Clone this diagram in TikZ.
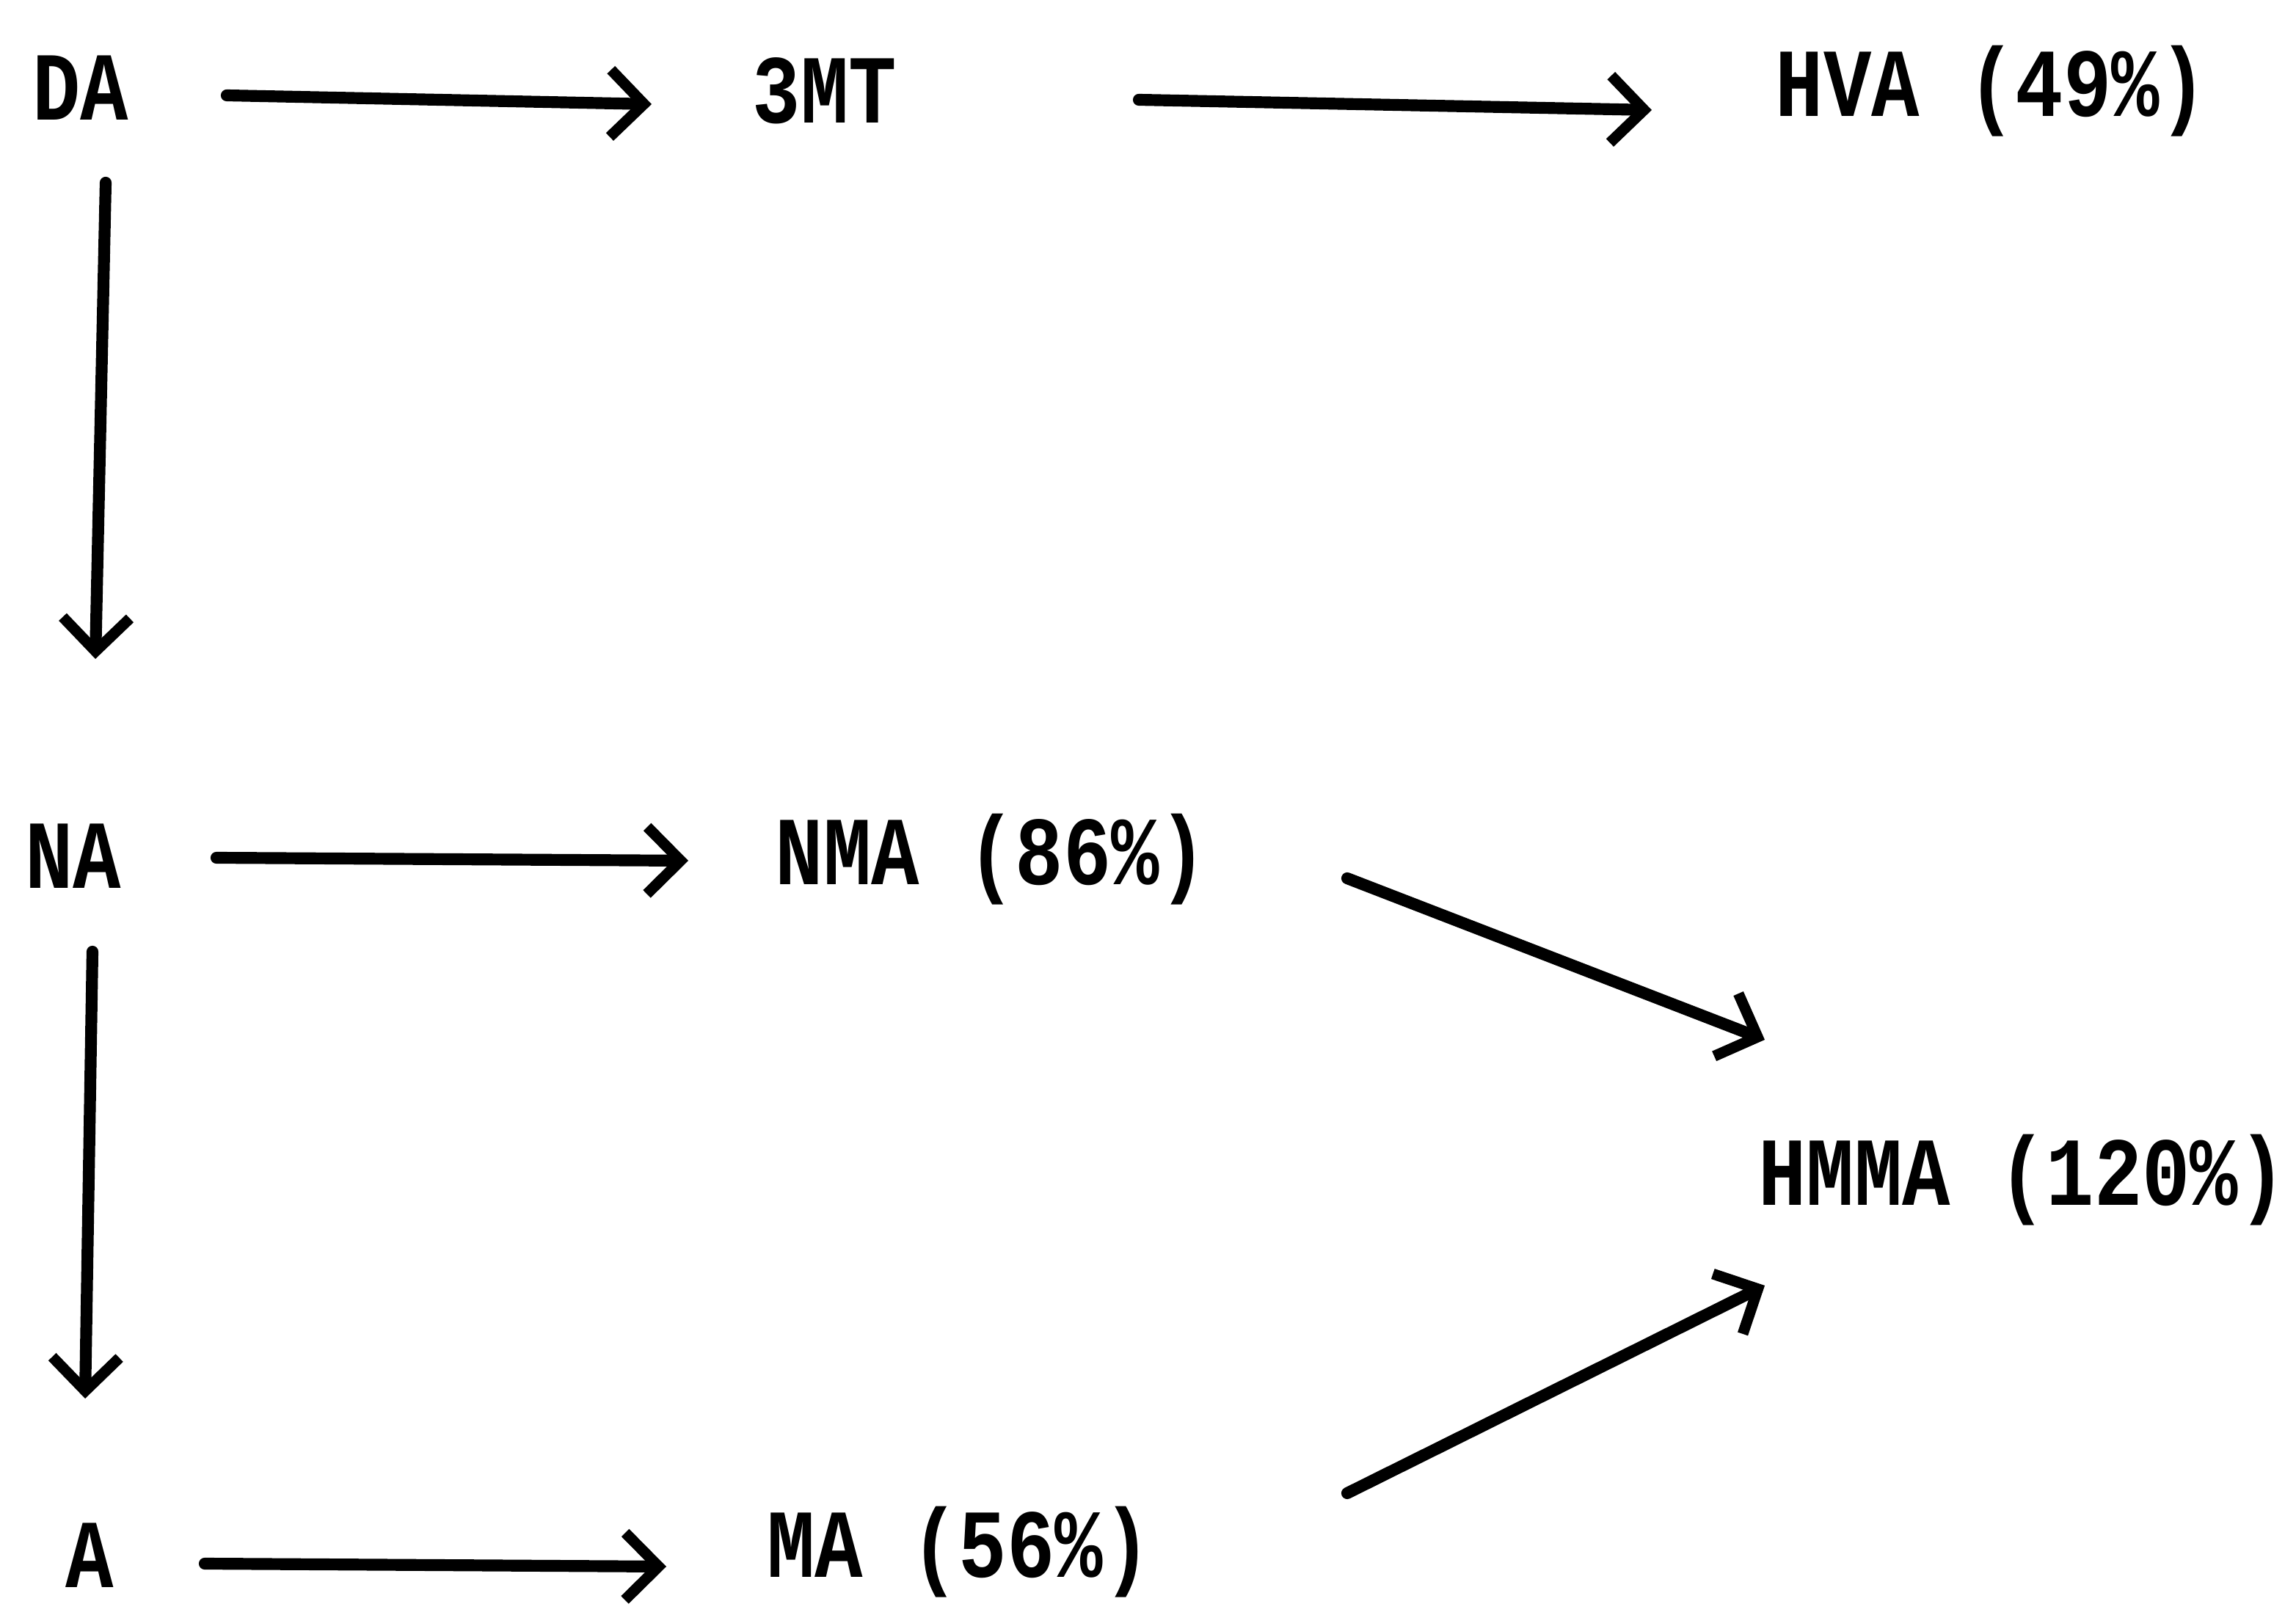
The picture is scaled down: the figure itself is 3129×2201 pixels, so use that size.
\documentclass[tikz,border=0pt]{standalone}
\usepackage{fontspec}
\setmonofont{Liberation Mono}
\usetikzlibrary{arrows.meta,calc}
\begin{document}
\begin{tikzpicture}[x=0.01cm,y=-0.01cm,
  lbl/.style={font=\ttfamily\bfseries\fontsize{31}{37}\selectfont, inner sep=0pt, yscale=1.22, transform shape},
  arr/.style={line width=4.6pt, line cap=round, -{Straight Barb[length=13pt,width=26pt,line width=4.2pt]}}]
\useasboundingbox (0,0) rectangle (3129,2201);
\node[lbl] (DA) at (110,120) {DA};
\node[lbl] (3MT) at (1124,124) {3MT};
\node[lbl] (HVA) at (2714,124) {HVA (49\%)};
\node[lbl] (NA) at (100,1167) {NA};
\node[lbl] (NMA) at (1351,1171) {NMA (86\%)};
\node[lbl] (HMMA) at (2756,1608) {HMMA (120\%)};
\node[lbl] (A) at (122,2120) {A};
\node[lbl] (MA) at (1307,2115) {MA (56\%)};
\draw[arr] ($(DA)+(199,10)$) -- ($(3MT)+(-236,18)$);
\draw[arr] ($(3MT)+(428,12)$) -- ($(HVA)+(-463,26)$);
\draw[arr] ($(DA)+(34,129)$) -- ($(NA)+(30,-269)$);
\draw[arr] ($(NA)+(195,2)$) -- ($(NMA)+(-413,2)$);
\draw[arr] ($(NA)+(26,130)$) -- ($(A)+(-6,-214)$);
\draw[arr] ($(A)+(157,11)$) -- ($(MA)+(-399,20)$);
\draw[arr] ($(NMA)+(485,26)$) -- ($(HMMA)+(-351,-191)$);
\draw[arr] ($(MA)+(529,-80)$) -- ($(HMMA)+(-351,144)$);
\end{tikzpicture}
\end{document}
